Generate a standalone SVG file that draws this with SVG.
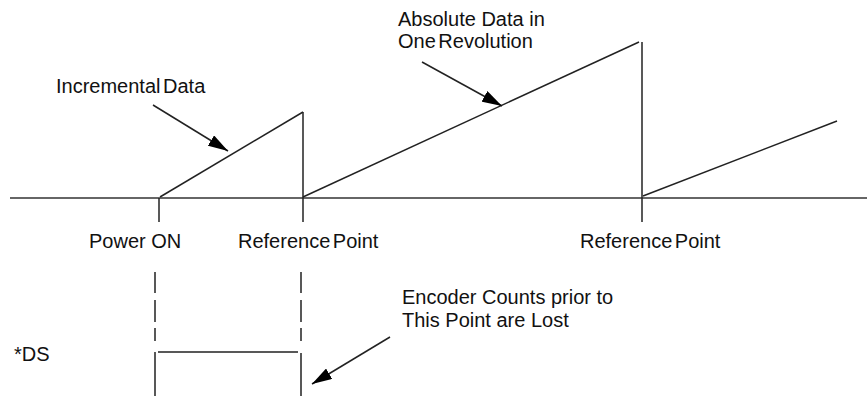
<svg xmlns="http://www.w3.org/2000/svg" width="867" height="396" viewBox="0 0 867 396">
<style>
.ln{stroke:#222;stroke-width:1.5;fill:none}
.ax{stroke:#333;stroke-width:1.5;fill:none}
.lb{font-family:"Liberation Sans",Arial,sans-serif;font-size:20px;fill:#111}
.tight{word-spacing:-3px}
</style>
<defs>
<marker id="ah" viewBox="0 0 20 12" refX="20" refY="6" markerWidth="20" markerHeight="12" markerUnits="userSpaceOnUse" orient="auto">
<path d="M0,0 L20,6 L0,12 Z" fill="#000"/>
</marker>
</defs>
<rect width="867" height="396" fill="#fff"/>
<g id="connectors">
<line class="ax" x1="10" y1="198" x2="867" y2="198"/>
<line class="ln" x1="159" y1="198" x2="159" y2="222"/>
<line class="ln" x1="303" y1="112" x2="303" y2="222"/>
<line class="ln" x1="642" y1="42" x2="642" y2="222"/>
<line class="ln" x1="160" y1="197" x2="303" y2="112"/>
<line class="ln" x1="303" y1="197" x2="639" y2="42"/>
<line class="ln" x1="643" y1="196" x2="837" y2="121"/>
<line class="ln" x1="153" y1="105" x2="228" y2="151" marker-end="url(#ah)"/>
<line class="ln" x1="422" y1="62" x2="502" y2="106" marker-end="url(#ah)"/>
<line class="ln" x1="390" y1="337" x2="312" y2="384" marker-end="url(#ah)"/>
<path class="ln" d="M155,272V293M155,300V322M155,328V341M301,272V293M301,300V322M301,328V341"/>
<path class="ln" d="M155,352V396M301,353V396M158,352H298"/>
</g>
<g id="label-incremental"><text class="lb tight" x="56" y="93">Incremental Data</text></g>
<g id="label-absolute"><text class="lb" x="398" y="26">Absolute Data in</text><text class="lb tight" x="398" y="48">One Revolution</text></g>
<g id="label-power"><text class="lb" x="89" y="248">Power ON</text></g>
<g id="label-ref1"><text class="lb tight" x="238" y="248">Reference Point</text></g>
<g id="label-ref2"><text class="lb tight" x="580" y="248">Reference Point</text></g>
<g id="label-encoder"><text class="lb" x="402" y="304">Encoder Counts prior to</text><text class="lb" x="402" y="327">This Point are Lost</text></g>
<g id="label-ds"><text class="lb" x="14" y="361">*DS</text></g>
</svg>
